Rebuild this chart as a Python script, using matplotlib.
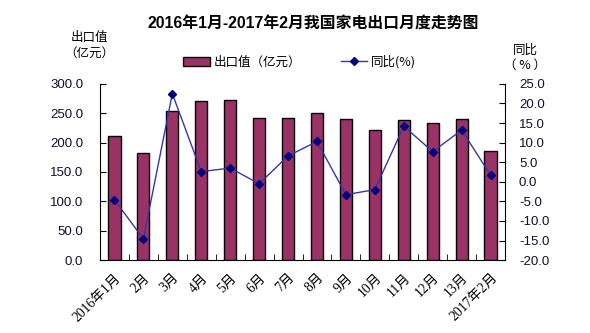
import matplotlib.pyplot as plt
import numpy as np

plt.rcParams['font.family'] = ['Liberation Sans', 'Noto Sans CJK SC', 'DejaVu Sans']
plt.rcParams['axes.unicode_minus'] = False

# 月份标签（照原图保留“13月”）
months = ['2016年1月', '2月', '3月', '4月', '5月', '6月', '7月', '8月',
          '9月', '10月', '11月', '12月', '13月', '2017年2月']
# 出口值（亿元）
export_value = [212, 183, 254, 271, 273, 242, 242, 250, 240, 222, 239, 233, 240, 186]
# 同比（%）
yoy = [-4.6, -14.6, 22.5, 2.6, 3.5, -0.5, 6.6, 10.3, -3.3, -2.0, 14.2, 7.7, 13.2, 1.7]

left_ticks = np.arange(0, 301, 50)
right_ticks = np.arange(-20, 26, 5)
cjk = ['Noto Sans CJK SC', 'DejaVu Sans']

fig = plt.figure(figsize=(5.9, 3.33), dpi=100)
ax = fig.add_axes([0.1695, 0.219, 0.6865, 0.529])
x = np.arange(len(months))

bars = ax.bar(x, export_value, width=0.42, color='#993366', edgecolor='black',
              linewidth=1.0, label='出口值（亿元）', zorder=2)
ax.set_xlim(-0.5, len(months) - 0.5)
ax.set_ylim(0, 300)
ax.set_yticks(left_ticks)
ax.set_yticklabels(['%.1f' % v for v in left_ticks])
ax.tick_params(axis='y', direction='in', length=4, pad=12, labelsize=9.5,
               labelcolor='#101030')

# 类别标签在中心，刻度在类别之间
ax.set_xticks(x)
ax.set_xticklabels(months, family=['Liberation Serif', 'Noto Sans CJK SC'])
ax.tick_params(axis='x', which='major', length=0, pad=8, labelsize=9.8)
plt.setp(ax.get_xticklabels(), rotation=45, ha='right', rotation_mode='anchor')
ax.set_xticks(np.arange(-0.5, len(months), 1), minor=True)
ax.tick_params(axis='x', which='minor', direction='in', length=4)

for s in ['top', 'right']:
    ax.spines[s].set_visible(False)

ax2 = ax.twinx()
line, = ax2.plot(x, yoy, color='#3838a0', linewidth=1.0, marker='D',
                 markersize=4.5, markerfacecolor='#000080', markeredgecolor='#000080',
                 label='同比(%)', zorder=3)
ax2.set_ylim(-20, 25)
ax2.set_yticks(right_ticks)
ax2.set_yticklabels(['%.1f' % v for v in right_ticks])
ax2.tick_params(axis='y', direction='in', length=4, pad=10, labelsize=9.5,
                labelcolor='#101030')
for s in ['top', 'left', 'bottom']:
    ax2.spines[s].set_visible(False)

fig.text(0.531, 0.928, '2016年1月-2017年2月我国家电出口月度走势图',
         ha='center', va='center', fontsize=11.4, fontweight='bold')
fig.text(0.152, 0.863, '出口值\n（亿元）', ha='center', va='center', fontsize=9,
         linespacing=1.25, family=cjk)
fig.text(0.89, 0.827, '同比\n（ % ）', ha='center', va='center', fontsize=9,
         linespacing=1.25, family=cjk)

fig.legend([bars, line], ['出口值（亿元）', '同比(%)'], loc='center',
           bbox_to_anchor=(0.508, 0.814), ncol=2, frameon=False,
           prop={'family': cjk, 'size': 9},
           handlelength=2.1, columnspacing=3.2, handletextpad=0.3)

plt.savefig('out.png', dpi=100)
